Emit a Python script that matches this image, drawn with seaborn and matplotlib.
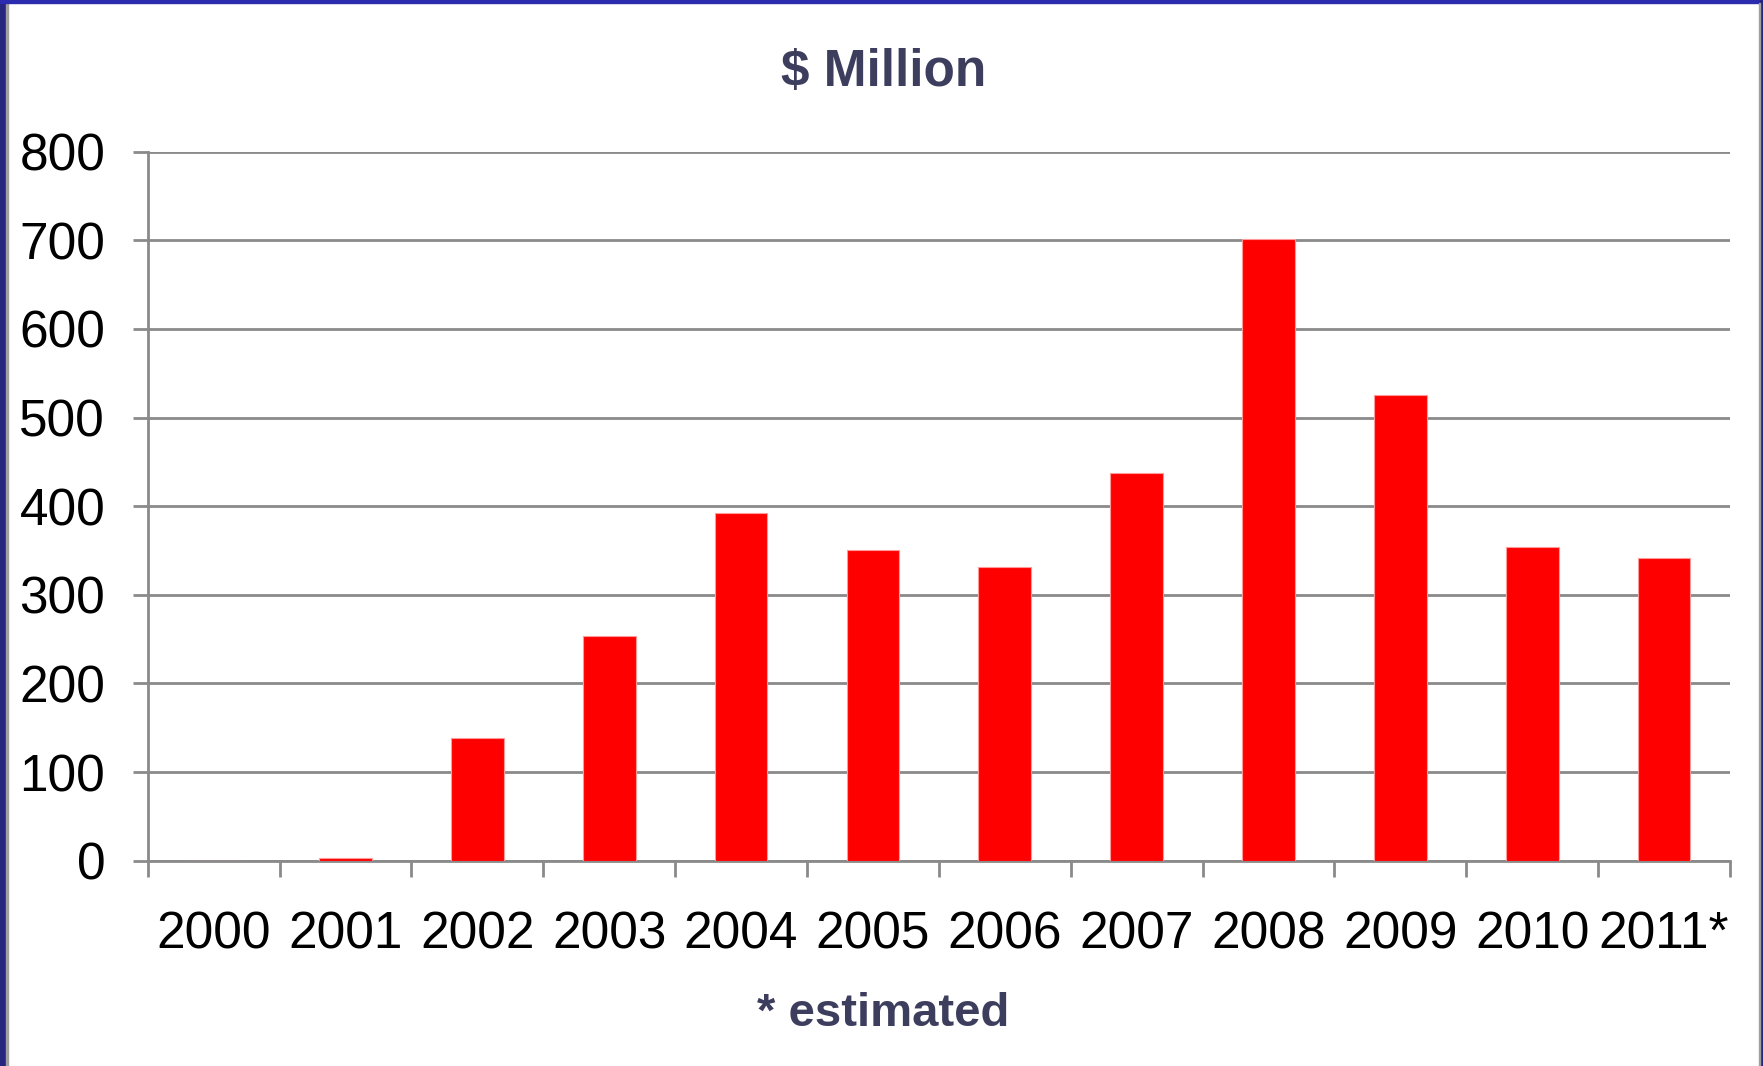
import matplotlib
matplotlib.use("Agg")
import matplotlib.pyplot as plt
from matplotlib.patches import Rectangle
from matplotlib.ticker import FixedLocator
import seaborn as sns

# Valores ($ milhões)
anos = ['2000', '2001', '2002', '2003', '2004', '2005',
        '2006', '2007', '2008', '2009', '2010', '2011*']
valores = [0, 3, 139, 254, 392, 351, 331, 438, 701, 525, 354, 341]
y_ticks = [0, 100, 200, 300, 400, 500, 600, 700, 800]

sns.set_style('white')
plt.rcParams['font.family'] = ['Liberation Sans', 'DejaVu Sans']

W, H = 1763, 1066
fig = plt.figure(figsize=(W / 100, H / 100), dpi=100)
ax = fig.add_axes([147.7 / W, 1 - 860.7 / H, (1730 - 147.7) / W, (860.7 - 151.7) / H])

sns.barplot(x=anos, y=valores, color='#FF0000', saturation=1, width=0.4,
            edgecolor='#FF9A9A', linewidth=0.8, ax=ax, zorder=3)

grey = '#8A8A8A'
ax.set_ylim(0, 800)
ax.set_xlim(-0.5, len(anos) - 0.5)
ax.set_yticks(y_ticks)
ax.set_yticklabels([str(v) for v in y_ticks])
ax.yaxis.grid(True, color=grey, linewidth=2, zorder=0)
ax.set_axisbelow(True)
ax.set_xlabel('')
ax.set_ylabel('')

for s in ['top', 'right']:
    ax.spines[s].set_visible(False)
for s in ['left', 'bottom']:
    ax.spines[s].set_color(grey)
    ax.spines[s].set_linewidth(2)

# marcas do eixo x entre categorias
ax.xaxis.set_minor_locator(FixedLocator([i - 0.5 for i in range(len(anos) + 1)]))
ax.tick_params(axis='x', which='major', length=0, pad=36, labelsize=37, labelcolor='black')
ax.tick_params(axis='x', which='minor', length=11.5, width=2, color=grey, direction='out', bottom=True)
ax.tick_params(axis='y', which='major', length=10.6, width=2, color=grey, direction='out',
               pad=20, labelsize=37, labelcolor='black', left=True)

fig.text(884 / W, 1 - 73 / H, r'\$ Million', ha='center', va='center',
         fontsize=37, fontweight='bold', color='#3D3D5E')
fig.text(883 / W, 1 - 1014 / H, '* estimated', ha='center', va='center',
         fontsize=34, fontweight='bold', color='#3D3D5E')

# moldura do slide
navy = '#262680'
fig.patches.append(Rectangle((0, 0), 6 / W, 1, transform=fig.transFigure, color=navy, zorder=10))
fig.patches.append(Rectangle((6 / W, 0), 1.5 / W, 1 - 3 / H, transform=fig.transFigure, color='#A0A0A0', zorder=10))
fig.patches.append(Rectangle((0, 1 - 3 / H), 1, 3 / H, transform=fig.transFigure, color='#2B2BB0', zorder=10))
fig.patches.append(Rectangle((1 - 3 / W, 0), 3 / W, 1, transform=fig.transFigure, color=navy, zorder=10))
fig.patches.append(Rectangle((1 - 4.5 / W, 0), 1.5 / W, 1 - 3 / H, transform=fig.transFigure, color='#A0A0A0', zorder=10))

fig.savefig('out.png', dpi=100)
plt.close(fig)
